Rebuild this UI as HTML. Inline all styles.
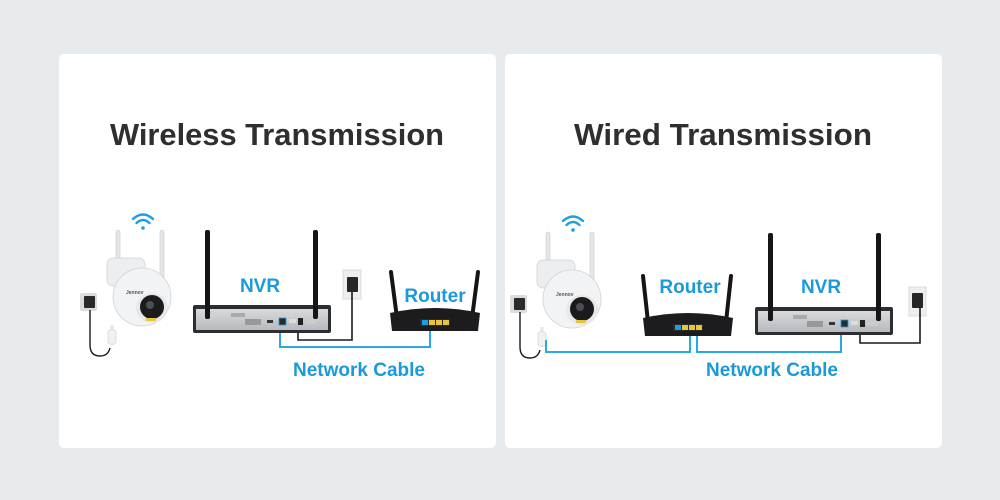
<!DOCTYPE html>
<html><head><meta charset="utf-8"><style>
html,body{margin:0;padding:0;background:#e8ebee;width:1000px;height:500px;overflow:hidden}
svg{display:block}
text{font-family:"Liberation Sans",sans-serif;font-weight:bold}
</style></head><body>
<svg width="1000" height="500" viewBox="0 0 1000 500">
<defs>
<g id="cam">
  <!-- antennas -->
  <rect x="116" y="230" width="4" height="62" rx="2" fill="#e4e6e8" stroke="#c9cccf" stroke-width="0.6"/>
  <rect x="160" y="230" width="4" height="62" rx="2" fill="#e4e6e8" stroke="#c9cccf" stroke-width="0.6"/>
  <!-- wifi -->
  <path d="M133 219 Q143 210 153 219" fill="none" stroke="#1aa0e0" stroke-width="2.4" stroke-linecap="round"/>
  <path d="M136.5 223 Q143 217 149.5 223" fill="none" stroke="#1aa0e0" stroke-width="2.4" stroke-linecap="round"/>
  <circle cx="143" cy="228" r="1.8" fill="#1aa0e0"/>
  <!-- mount -->
  <rect x="107" y="258" width="38" height="28" rx="6" fill="#eceef0" stroke="#d0d3d6" stroke-width="0.8"/>
  <!-- dome -->
  <circle cx="142" cy="297" r="29" fill="#f2f3f4" stroke="#cfd2d5" stroke-width="0.8"/>
  <ellipse cx="152" cy="308" rx="16" ry="15" fill="#e6e8ea"/>
  <circle cx="152" cy="307" r="12" fill="#1b1b1b"/>
  <circle cx="150" cy="305" r="4" fill="#4a4f55"/>
  <rect x="146" y="318" width="10" height="3" rx="1" fill="#e8c43a"/>
  <text x="126" y="294" font-size="5" fill="#555" font-weight="normal">Jennov</text>
  <!-- cables -->
  <path d="M112 325 L112 345" stroke="#e2e4e6" stroke-width="3"/>
  <rect x="108" y="330" width="8" height="14" rx="2" fill="#f0f1f2" stroke="#c8cbce" stroke-width="0.6"/>
  <!-- plug -->
  <rect x="80" y="293" width="17" height="18" rx="2" fill="#dadcde"/>
  <rect x="84" y="296" width="11" height="12" rx="1" fill="#2a2a2a"/>
  <path d="M90 310 L90 345 Q90 356 100 356 Q108 356 110 348" fill="none" stroke="#1a1a1a" stroke-width="1.4"/>
</g>
<g id="nvr">
  <rect x="0" y="0" width="138" height="28" rx="2" fill="#2c2e31"/>
  <rect x="3" y="4" width="132" height="21" fill="#5a5e63"/>
  <rect x="3" y="4" width="132" height="21" fill="url(#metal)"/>
  <rect x="38" y="8" width="14" height="4" fill="#aaa"/>
  <rect x="52" y="14" width="16" height="6" fill="#999"/>
  <rect x="74" y="15" width="6" height="3" fill="#333"/>
  <rect x="86" y="13" width="7" height="7" fill="#2b2b2b" stroke="#1aa0e0" stroke-width="0.8"/>
  <rect x="96" y="14" width="7" height="4" fill="#ddd"/>
  <rect x="105" y="13" width="5" height="7" fill="#222"/>
  <rect x="112" y="14" width="11" height="5" fill="#ccc"/>
</g>
<linearGradient id="metal" x1="0" y1="0" x2="0" y2="1"><stop offset="0" stop-color="#d8dadc"/><stop offset="1" stop-color="#b7babe"/></linearGradient>
<g id="router">
  <path d="M0 8 Q45 -2 90 8 L88 26 L2 26 Z" fill="#1c1c1e"/>
  <rect x="30" y="14" width="30" height="7" fill="#2a2a2a"/>
  <rect x="32" y="15" width="6" height="5" fill="#1aa0e0"/>
  <rect x="39" y="15" width="6" height="5" fill="#e8c43a"/>
  <rect x="46" y="15" width="6" height="5" fill="#e8c43a"/>
  <rect x="53" y="15" width="6" height="5" fill="#e8c43a"/>
</g>
</defs>

<!-- cards -->
<rect x="59" y="54" width="437" height="394" rx="5" fill="#fff"/>
<rect x="505" y="54" width="437" height="394" rx="5" fill="#fff"/>

<text x="277" y="145" text-anchor="middle" font-size="31" fill="#2f2f2f" textLength="334" lengthAdjust="spacingAndGlyphs">Wireless Transmission</text>
<text x="723" y="145" text-anchor="middle" font-size="31" fill="#2f2f2f" textLength="298" lengthAdjust="spacingAndGlyphs">Wired Transmission</text>

<!-- LEFT PANEL -->
<use href="#cam"/>
<!-- outlet -->
<rect x="343" y="270" width="18" height="29" fill="#eceeef" stroke="#d2d4d6" stroke-width="0.8"/>
<rect x="347" y="277" width="11" height="15" rx="1" fill="#262626"/>
<!-- cables -->
<path d="M298 325 L298 340 L352 340 L352 292" fill="none" stroke="#1a1a1a" stroke-width="1.6"/>
<path d="M280 324 L280 347 L430 347 L430 326" fill="none" stroke="#29a8e6" stroke-width="2"/>
<!-- NVR antennas -->
<rect x="205" y="230" width="5" height="88" rx="2" fill="#151515"/>
<rect x="313" y="230" width="5" height="88" rx="2" fill="#151515"/>
<use href="#nvr" transform="translate(193,305)"/>
<rect x="205" y="305" width="5" height="14" rx="2" fill="#151515"/>
<rect x="313" y="305" width="5" height="14" rx="2" fill="#151515"/>
<!-- router -->
<path d="M391 272 L397 318" stroke="#151515" stroke-width="4" stroke-linecap="round"/>
<path d="M478 272 L472 318" stroke="#151515" stroke-width="4" stroke-linecap="round"/>
<use href="#router" transform="translate(390,305)"/>
<text x="260" y="292" text-anchor="middle" font-size="19" fill="#1a9ad9">NVR</text>
<text x="435" y="302" text-anchor="middle" font-size="19" fill="#1a9ad9">Router</text>
<text x="359" y="376" text-anchor="middle" font-size="19" fill="#1a9ad9">Network Cable</text>

<!-- RIGHT PANEL -->
<use href="#cam" transform="translate(430,2)"/>
<rect x="909" y="287" width="17" height="29" fill="#eceeef" stroke="#d2d4d6" stroke-width="0.8"/>
<rect x="912" y="293" width="11" height="15" rx="1" fill="#262626"/>
<path d="M860 330 L860 343 L920 343 L920 307" fill="none" stroke="#1a1a1a" stroke-width="1.6"/>
<path d="M546 340 L546 352 L690 352 L690 328" fill="none" stroke="#29a8e6" stroke-width="2"/>
<path d="M697 328 L697 352 L841 352 L841 327" fill="none" stroke="#29a8e6" stroke-width="2"/>
<rect x="768" y="233" width="5" height="88" rx="2" fill="#151515"/>
<rect x="876" y="233" width="5" height="88" rx="2" fill="#151515"/>
<use href="#nvr" transform="translate(755,307)"/>
<rect x="768" y="307" width="5" height="14" rx="2" fill="#151515"/>
<rect x="876" y="307" width="5" height="14" rx="2" fill="#151515"/>
<path d="M643 276 L648 322" stroke="#151515" stroke-width="4" stroke-linecap="round"/>
<path d="M731 276 L726 322" stroke="#151515" stroke-width="4" stroke-linecap="round"/>
<use href="#router" transform="translate(643,310)"/>
<text x="690" y="293" text-anchor="middle" font-size="19" fill="#1a9ad9">Router</text>
<text x="821" y="293" text-anchor="middle" font-size="19" fill="#1a9ad9">NVR</text>
<text x="772" y="376" text-anchor="middle" font-size="19" fill="#1a9ad9">Network Cable</text>
</svg>
</body></html>
